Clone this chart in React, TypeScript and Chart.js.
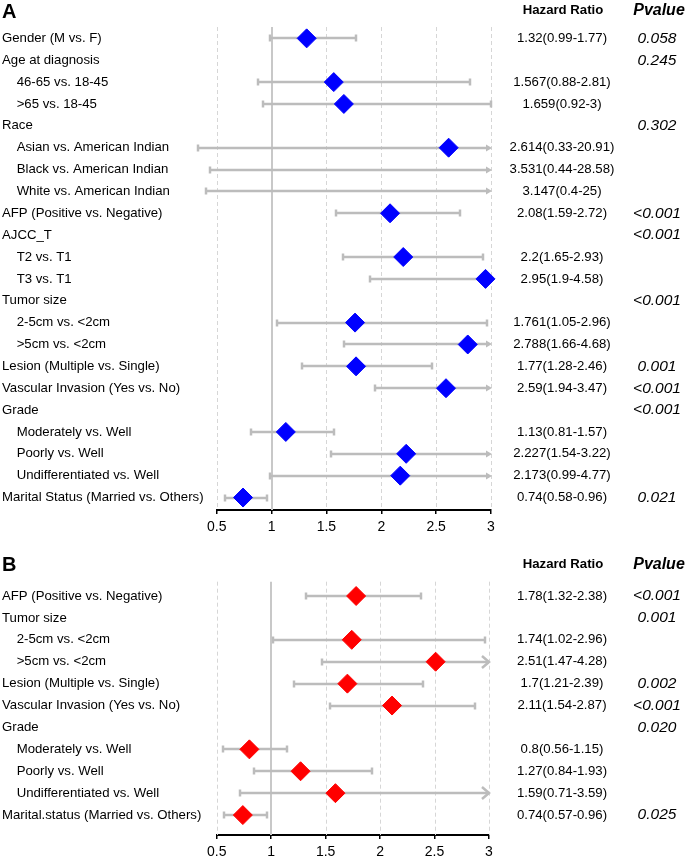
import React, { useEffect, useRef } from 'react';
import { Chart, registerables } from 'chart.js';

Chart.register(...registerables);

const FONT = "'Liberation Sans', Arial, Helvetica, sans-serif";

// ---------- Panel A data ----------
const labelsA = [
  'Gender (M vs. F)',
  'Age at diagnosis',
  '    46-65 vs. 18-45',
  '    >65 vs. 18-45',
  'Race',
  '    Asian vs. American Indian',
  '    Black vs. American Indian',
  '    White vs. American Indian',
  'AFP (Positive vs. Negative)',
  'AJCC_T',
  '    T2 vs. T1',
  '    T3 vs. T1',
  'Tumor size',
  '    2-5cm vs. <2cm',
  '    >5cm vs. <2cm',
  'Lesion (Multiple vs. Single)',
  'Vascular Invasion (Yes vs. No)',
  'Grade',
  '    Moderately vs. Well',
  '    Poorly vs. Well',
  '    Undifferentiated vs. Well',
  'Marital Status (Married vs. Others)',
];
const hrA = [1.32, null, 1.567, 1.659, null, 2.614, 3.531, 3.147, 2.08, null, 2.2, 2.95, null, 1.761, 2.788, 1.77, 2.59, null, 1.13, 2.227, 2.173, 0.74];
const lowA = [0.99, null, 0.88, 0.92, null, 0.33, 0.44, 0.4, 1.59, null, 1.65, 1.9, null, 1.05, 1.66, 1.28, 1.94, null, 0.81, 1.54, 0.99, 0.58];
const upA = [1.77, null, 2.81, 3, null, 20.91, 28.58, 25, 2.72, null, 2.93, 4.58, null, 2.96, 4.68, 2.46, 3.47, null, 1.57, 3.22, 4.77, 0.96];
const hrTextA = [
  '1.32(0.99-1.77)', '', '1.567(0.88-2.81)', '1.659(0.92-3)', '', '2.614(0.33-20.91)', '3.531(0.44-28.58)',
  '3.147(0.4-25)', '2.08(1.59-2.72)', '', '2.2(1.65-2.93)', '2.95(1.9-4.58)', '', '1.761(1.05-2.96)',
  '2.788(1.66-4.68)', '1.77(1.28-2.46)', '2.59(1.94-3.47)', '', '1.13(0.81-1.57)', '2.227(1.54-3.22)',
  '2.173(0.99-4.77)', '0.74(0.58-0.96)',
];
const pA = ['0.058', '0.245', '', '', '0.302', '', '', '', '<0.001', '<0.001', '', '', '<0.001', '', '', '0.001', '<0.001', '<0.001', '', '', '', '0.021'];

// ---------- Panel B data ----------
const labelsB = [
  'AFP (Positive vs. Negative)',
  'Tumor size',
  '    2-5cm vs. <2cm',
  '    >5cm vs. <2cm',
  'Lesion (Multiple vs. Single)',
  'Vascular Invasion (Yes vs. No)',
  'Grade',
  '    Moderately vs. Well',
  '    Poorly vs. Well',
  '    Undifferentiated vs. Well',
  'Marital.status (Married vs. Others)',
];
const hrB = [1.78, null, 1.74, 2.51, 1.7, 2.11, null, 0.8, 1.27, 1.59, 0.74];
const lowB = [1.32, null, 1.02, 1.47, 1.21, 1.54, null, 0.56, 0.84, 0.71, 0.57];
const upB = [2.38, null, 2.96, 4.28, 2.39, 2.87, null, 1.15, 1.93, 3.59, 0.96];
const hrTextB = [
  '1.78(1.32-2.38)', '', '1.74(1.02-2.96)', '2.51(1.47-4.28)', '1.7(1.21-2.39)', '2.11(1.54-2.87)', '',
  '0.8(0.56-1.15)', '1.27(0.84-1.93)', '1.59(0.71-3.59)', '0.74(0.57-0.96)',
];
const pB = ['<0.001', '0.001', '', '', '0.002', '<0.001', '0.020', '', '', '', '0.025'];

const xTicks = [0.5, 1, 1.5, 2, 2.5, 3];
const xMin = 0.5;
const xMax = 3;
const refValue = 1;

type Layout = {
  height: number;
  top: number;
  right: number;
  axisH: number;
  yMin: number;
  yMax: number;
  letterY: number;
  headerY: number;
  arrow: 'filled' | 'open';
};

type Props = {
  letter: string;
  labels: string[];
  hr: (number | null)[];
  low: (number | null)[];
  up: (number | null)[];
  hrText: string[];
  p: string[];
  color: string;
  layout: Layout;
};

function Forest({ letter, labels, hr, low, up, hrText, p, color, layout }: Props) {
  const ref = useRef<HTMLCanvasElement | null>(null);

  useEffect(() => {
    if (!ref.current) return;
    const points = hr
      .map((v, i) => ({ x: v, y: i }))
      .filter((d) => d.x !== null && (d.x as number) <= xMax) as { x: number; y: number }[];

    const forestPlugin = {
      id: 'forestDraw',
      beforeDatasetsDraw(chart: any) {
        const { ctx, chartArea, scales } = chart;
        const x = scales.x;
        const y = scales.y;
        ctx.save();
        // vertical guide lines
        for (const v of xTicks) {
          if (v === refValue) continue;
          const px = Math.round(x.getPixelForValue(v)) + 0.5;
          ctx.beginPath();
          ctx.setLineDash([4, 3]);
          ctx.strokeStyle = '#d6d6d6';
          ctx.lineWidth = 1;
          ctx.moveTo(px, chartArea.top);
          ctx.lineTo(px, chartArea.bottom);
          ctx.stroke();
        }
        const rx = Math.round(x.getPixelForValue(refValue));
        ctx.beginPath();
        ctx.setLineDash([]);
        ctx.strokeStyle = '#c8c8c8';
        ctx.lineWidth = 2;
        ctx.moveTo(rx, chartArea.top);
        ctx.lineTo(rx, chartArea.bottom);
        ctx.stroke();

        // confidence intervals
        ctx.strokeStyle = '#bcbcbc';
        ctx.fillStyle = '#bcbcbc';
        ctx.lineWidth = 2.5;
        for (let i = 0; i < labels.length; i++) {
          const lo = low[i];
          const hi = up[i];
          if (lo === null || hi === null) continue;
          const yc = Math.round(y.getPixelForValue(i));
          const x0 = Math.round(x.getPixelForValue(lo));
          const clipped = hi > xMax;
          const x1 = Math.round(x.getPixelForValue(Math.min(hi, xMax)));
          ctx.beginPath();
          ctx.moveTo(x0, yc);
          ctx.lineTo(clipped && layout.arrow === 'filled' ? x1 - 4 : x1, yc);
          ctx.stroke();
          // lower cap
          ctx.beginPath();
          ctx.moveTo(x0, yc - 3.5);
          ctx.lineTo(x0, yc + 3.5);
          ctx.stroke();
          if (!clipped) {
            ctx.beginPath();
            ctx.moveTo(x1, yc - 3.5);
            ctx.lineTo(x1, yc + 3.5);
            ctx.stroke();
          } else if (layout.arrow === 'filled') {
            ctx.beginPath();
            ctx.moveTo(x1 + 1, yc);
            ctx.lineTo(x1 - 5, yc - 3.5);
            ctx.lineTo(x1 - 5, yc + 3.5);
            ctx.closePath();
            ctx.fill();
          } else {
            ctx.beginPath();
            ctx.moveTo(x1 - 7, yc - 6);
            ctx.lineTo(x1, yc);
            ctx.lineTo(x1 - 7, yc + 6);
            ctx.stroke();
          }
        }
        ctx.restore();
      },
      afterDraw(chart: any) {
        const { ctx, scales } = chart;
        const y = scales.y;
        ctx.save();
        ctx.fillStyle = '#000';
        ctx.textBaseline = 'middle';
        // panel letter
        ctx.textAlign = 'left';
        ctx.font = `bold 20px ${FONT}`;
        ctx.fillText(letter, 2, layout.letterY);
        // headers
        ctx.textAlign = 'center';
        ctx.font = `bold 13.2px ${FONT}`;
        ctx.fillText('Hazard Ratio', 563, layout.headerY);
        ctx.font = `italic bold 16px ${FONT}`;
        ctx.fillText('Pvalue', 659, layout.headerY + 1);
        for (let i = 0; i < labels.length; i++) {
          const yc = y.getPixelForValue(i);
          if (hrText[i]) {
            ctx.font = `13.2px ${FONT}`;
            ctx.fillText(hrText[i], 562, yc);
          }
          if (p[i]) {
            ctx.font = `italic 15.5px ${FONT}`;
            ctx.fillText(p[i], 657, yc);
          }
        }
        ctx.restore();
      },
    };

    const chart = new Chart(ref.current, {
      type: 'scatter',
      data: {
        datasets: [
          {
            data: points,
            pointStyle: 'rectRot',
            pointRadius: 9.5,
            pointHoverRadius: 9.5,
            backgroundColor: color,
            borderColor: color,
            borderWidth: 1,
            clip: false,
          } as any,
        ],
      },
      options: {
        animation: false,
        responsive: false,
        events: [],
        layout: { padding: { top: layout.top, left: 2, right: layout.right, bottom: 0 } },
        plugins: { legend: { display: false }, tooltip: { enabled: false } },
        scales: {
          x: {
            type: 'linear',
            min: xMin,
            max: xMax,
            afterBuildTicks: (s: any) => {
              s.ticks = xTicks.map((v) => ({ value: v }));
            },
            afterFit: (s: any) => {
              s.height = layout.axisH;
            },
            grid: { display: true, drawOnChartArea: false, drawTicks: true, tickLength: 4, color: '#000', lineWidth: 1.5 },
            border: { display: true, color: '#000', width: 2 },
            ticks: {
              font: { family: FONT, size: 14 },
              color: '#000',
              padding: 5,
              maxRotation: 0,
              autoSkip: false,
              callback: (v: any) => String(v),
            },
          },
          y: {
            type: 'linear',
            reverse: true,
            min: layout.yMin,
            max: layout.yMax,
            afterBuildTicks: (s: any) => {
              s.ticks = labels.map((_, i) => ({ value: i }));
            },
            afterFit: (s: any) => {
              s.width = 216.7 - 2;
            },
            grid: { display: false },
            border: { display: false },
            ticks: {
              crossAlign: 'far',
              font: { family: FONT, size: 13.2 },
              color: '#000',
              autoSkip: false,
              callback: (v: any) => labels[v as number] ?? '',
            },
          },
        },
      } as any,
      plugins: [forestPlugin],
    });
    return () => chart.destroy();
  }, []);

  return <canvas ref={ref} width={685} height={layout.height} style={{ display: 'block' }} />;
}

const layoutA: Layout = {
  height: 548,
  top: 27,
  right: 685 - 491,
  axisH: 548 - 510,
  yMin: -0.52,
  yMax: 21.57,
  letterY: 12,
  headerY: 10,
  arrow: 'filled',
};

const layoutB: Layout = {
  height: 309,
  top: 33.7,
  right: 685 - 489,
  axisH: 309 - 287,
  yMin: -0.653,
  yMax: 10.91,
  letterY: 17,
  headerY: 16,
  arrow: 'open',
};

export default function App() {
  return (
    <div style={{ position: 'absolute', left: 0, top: 0, width: 685, height: 857, background: '#fff', overflow: 'hidden' }}>
      <Forest letter="A" labels={labelsA} hr={hrA} low={lowA} up={upA} hrText={hrTextA} p={pA} color="#0000ff" layout={layoutA} />
      <Forest letter="B" labels={labelsB} hr={hrB} low={lowB} up={upB} hrText={hrTextB} p={pB} color="#ff0000" layout={layoutB} />
    </div>
  );
}
